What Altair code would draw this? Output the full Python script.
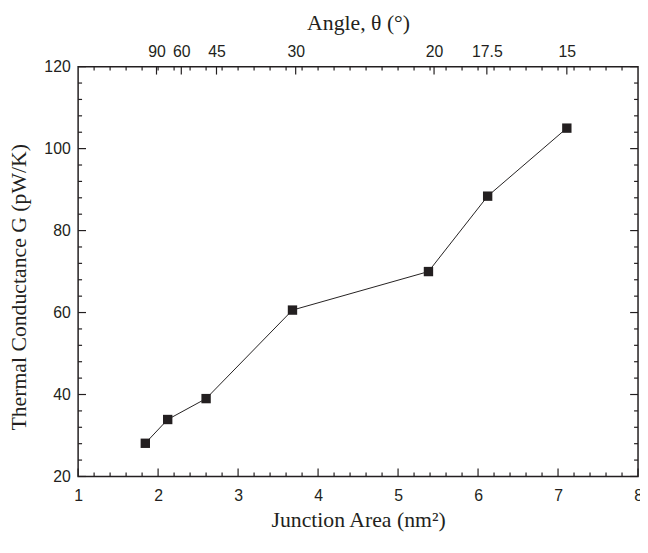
import altair as alt
import pandas as pd

# ---- data ----
area = [1.84, 2.12, 2.60, 3.68, 5.38, 6.12, 7.11]
conductance = [28.1, 33.9, 39.0, 60.6, 70.0, 88.4, 105.0]

angle_labels = ["90", "60", "45", "30", "20", "17.5", "15"]
angle_pos = [1.98, 2.29, 2.73, 3.72, 5.45, 6.11, 7.11]

x_major = [1, 2, 3, 4, 5, 6, 7, 8]
y_major = [20, 40, 60, 80, 100, 120]
x_minor = [round(1 + 0.2 * i, 1) for i in range(1, 35) if i % 5]
x_top_minor = [round(1 + 0.2 * i, 1) for i in range(1, 35)]
y_minor = [20 + 4 * i for i in range(1, 25) if i % 5]

INK = "#231f20"
SANS = "Liberation Sans"
SERIF = "Liberation Serif"
W, H = 567, 415
MAJ, MIN = 8, 4

xscale = alt.Scale(domain=[1, 8], nice=False, zero=False)
yscale = alt.Scale(domain=[20, 120], nice=False, zero=False)

df = pd.DataFrame({"area": area, "G": conductance})

common_axis = dict(ticks=False, tickSize=0, domain=False, grid=False,
                   labelFont=SANS, labelFontSize=16, labelColor=INK,
                   labelOverlap=False, labelFlush=False, labelBound=False,
                   titleFont=SERIF, titleFontSize=22, titleFontWeight="normal",
                   titleColor=INK)

bottom_axis = alt.Axis(orient="bottom", values=x_major, format="d",
                       title="Junction Area (nm²)", labelPadding=11,
                       titlePadding=7, **common_axis)
left_axis = alt.Axis(orient="left", values=y_major, format="d",
                     title="Thermal Conductance G (pW/K)", labelPadding=8,
                     titlePadding=14, titleY=223, **common_axis)

label_arr = "[" + ",".join("'%s'" % s for s in angle_labels) + "]"
pos_arr = "[" + ",".join(str(p) for p in angle_pos) + "]"
top_axis = alt.Axis(orient="top", values=angle_pos,
                    labelExpr=f"{label_arr}[indexof({pos_arr}, datum.value)]",
                    title="Angle, θ (°)", labelPadding=7, titlePadding=10,
                    **common_axis)

line = alt.Chart(df).mark_line(color=INK, strokeWidth=1).encode(
    x=alt.X("area:Q", scale=xscale, axis=bottom_axis),
    y=alt.Y("G:Q", scale=yscale, axis=left_axis),
)
points = alt.Chart(df).mark_square(size=90, color=INK, opacity=1).encode(
    x=alt.X("area:Q", scale=xscale, axis=None),
    y=alt.Y("G:Q", scale=yscale, axis=None),
)

def vticks(values, y0, y1, axis=None):
    d = pd.DataFrame({"v": values})
    return alt.Chart(d).mark_rule(color=INK, strokeWidth=1.2).encode(
        x=alt.X("v:Q", scale=xscale, axis=axis),
        y=alt.value(y0), y2=alt.value(y1),
    )

def hticks(values, x0, x1):
    d = pd.DataFrame({"v": values})
    return alt.Chart(d).mark_rule(color=INK, strokeWidth=1.2).encode(
        y=alt.Y("v:Q", scale=yscale, axis=None),
        x=alt.value(x0), x2=alt.value(x1),
    )

layers = [
    vticks(x_major, H, H - MAJ),
    vticks(x_minor, H, H - MIN),
    vticks(angle_pos, 0, MAJ, axis=top_axis),
    vticks(x_top_minor, 0, MIN),
    hticks(y_major, 0, MAJ),
    hticks(y_minor, 0, MIN),
    hticks(y_major, W, W - MAJ),
    hticks(y_minor, W, W - MIN),
    line,
    points,
]

chart = alt.layer(*layers).resolve_axis(
    x="independent", y="independent"
).properties(
    width=W, height=H,
    autosize=alt.AutoSizeParams(type="none"),
    padding={"left": 71, "top": 56, "right": 2, "bottom": 66},
    background="white",
).configure_view(stroke=INK, strokeWidth=1.5)

chart.save("out.html", embed_options={"renderer": "svg", "actions": False})
